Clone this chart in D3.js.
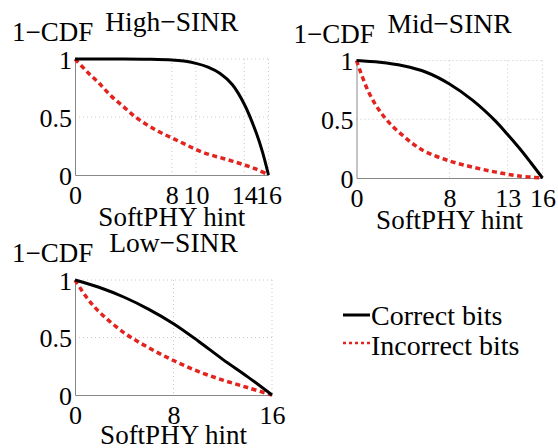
<!DOCTYPE html>
<html>
<head>
<meta charset="utf-8">
<script src="https://cdn.jsdelivr.net/npm/d3@7"></script>
<style>
  html, body { margin: 0; padding: 0; background: #fff; }
</style>
</head>
<body>
<svg id="chart" width="558" height="448"></svg>
<script>
// SoftPHY hint values (x) and 1-CDF of each bit class, per SINR regime
const highHint      = [0, 2, 4, 6, 8, 9, 10, 11, 12, 13, 14, 15, 15.5, 16];
const highCorrect   = [1.0, 1.0, 1.0, 0.998, 0.992, 0.982, 0.962, 0.93, 0.875, 0.78, 0.61, 0.36, 0.2, 0];
const highIncHint   = [0, 1, 2, 3, 4, 5, 6, 7, 8, 9, 10, 11, 12, 13, 14, 15, 16];
const highIncorrect = [1.0, 0.89, 0.79, 0.68, 0.59, 0.5, 0.43, 0.37, 0.32, 0.27, 0.22, 0.18, 0.15, 0.12, 0.087, 0.05, 0];

const midHint       = [0, 2, 4, 6, 8, 10, 12, 13, 14, 15, 16];
const midCorrect    = [1.0, 0.985, 0.955, 0.9, 0.8, 0.66, 0.48, 0.37, 0.255, 0.13, 0];
const midIncHint    = [0, 1, 2, 3, 4, 5, 6, 8, 10, 12, 14, 16];
const midIncorrect  = [1.0, 0.74, 0.57, 0.45, 0.36, 0.28, 0.22, 0.145, 0.092, 0.05, 0.017, 0];

const lowHint       = [0, 2, 4, 6, 8, 10, 12, 14, 16];
const lowCorrect    = [1.0, 0.935, 0.85, 0.745, 0.62, 0.47, 0.31, 0.16, 0];
const lowIncHint    = [0, 1, 2, 4, 6, 8, 10, 12, 14, 16];
const lowIncorrect  = [1.0, 0.84, 0.72, 0.54, 0.41, 0.3, 0.205, 0.13, 0.065, 0];

const highTicks = [0, 8, 10, 14, 16];
const midTicks  = [0, 8, 13, 16];
const lowTicks  = [0, 8, 16];
const yTicks    = [0, 0.5, 1];
const yTickLabels = ["0", "0.5", "1"];

const titles = ["High\u2212SINR", "Mid\u2212SINR", "Low\u2212SINR"];
const yLabel = "1\u2212CDF";
const xLabel = "SoftPHY hint";
const seriesNames = ["Correct bits", "Incorrect bits"];

const RED = "#e3231e";
const FONT = "Liberation Serif";

const svg = d3.select("#chart").attr("font-family", FONT);

const panels = [
  { title: titles[0], ticks: highTicks, box: [75, 268.5, 59, 175], xlab: 51,
    correct: [highHint, highCorrect], incorrect: [highIncHint, highIncorrect] },
  { title: titles[1], ticks: midTicks, box: [356.5, 542.5, 60.5, 178], xlab: 51,
    correct: [midHint, midCorrect], incorrect: [midIncHint, midIncorrect] },
  { title: titles[2], ticks: lowTicks, box: [75, 272, 280, 395], xlab: 49,
    correct: [lowHint, lowCorrect], incorrect: [lowIncHint, lowIncorrect] }
];

panels.forEach(p => {
  const [x0, x1, yT, yB] = p.box;
  const x = d3.scaleLinear().domain([0, 16]).range([x0, x1]);
  const y = d3.scaleLinear().domain([0, 1]).range([yB, yT]);
  const g = svg.append("g");

  // dotted grid
  g.append("g").selectAll("line").data(p.ticks.filter(t => t > 0)).join("line")
    .attr("x1", d => x(d)).attr("x2", d => x(d))
    .attr("y1", yT).attr("y2", yB)
    .attr("stroke", "#c8c8c8").attr("stroke-width", 1).attr("stroke-dasharray", "1,3");
  g.append("g").selectAll("line").data(yTicks.filter(t => t > 0)).join("line")
    .attr("x1", x0).attr("x2", x1)
    .attr("y1", d => y(d)).attr("y2", d => y(d))
    .attr("stroke", "#c8c8c8").attr("stroke-width", 1).attr("stroke-dasharray", "1,3");

  // axes
  const xAxis = d3.axisBottom(x).tickValues(p.ticks).tickSize(0).tickPadding(11)
    .tickFormat(d3.format("d"));
  const yAxis = d3.axisLeft(y).tickValues(yTicks).tickSize(0).tickPadding(3)
    .tickFormat((d, i) => yTickLabels[i]);

  const gx = g.append("g").attr("transform", `translate(0,${yB})`).call(xAxis);
  const gy = g.append("g").attr("transform", `translate(${x0},0)`).call(yAxis);
  [gx, gy].forEach(a => {
    a.attr("font-family", FONT).attr("font-size", 26);
    a.select(".domain").attr("stroke", "#888").attr("stroke-width", 1);
    a.selectAll("text").attr("fill", "#000");
  });
  gx.selectAll("text").attr("dy", "0.71em");
  gy.selectAll("text").attr("dy", "0.35em");

  // curves
  const line = d3.line().x(d => x(d[0])).y(d => y(d[1])).curve(d3.curveCatmullRom.alpha(0.5));
  const ptsInc = p.incorrect[0].map((h, i) => [h, p.incorrect[1][i]]);
  const ptsCor = p.correct[0].map((h, i) => [h, p.correct[1][i]]);
  g.append("path").attr("d", line(ptsInc)).attr("fill", "none")
    .attr("stroke", RED).attr("stroke-width", 3.5).attr("stroke-dasharray", "5,3.5");
  g.append("path").attr("d", line(ptsCor)).attr("fill", "none")
    .attr("stroke", "#000").attr("stroke-width", 3);

  // labels
  g.append("text").attr("x", (x0 + x1) / 2).attr("y", yT - 28)
    .attr("text-anchor", "middle").attr("font-size", 27.5).text(p.title);
  g.append("text").attr("x", x0 - 63).attr("y", yT - 18)
    .attr("font-size", 27).text(yLabel);
  g.append("text").attr("x", (x0 + x1) / 2).attr("y", yB + p.xlab)
    .attr("text-anchor", "middle").attr("font-size", 27).text(xLabel);
});

// legend
const legend = svg.append("g");
const legendRows = [
  { name: seriesNames[0], color: "#000", width: 3, dash: null, y: 315, ty: 325 },
  { name: seriesNames[1], color: RED, width: 2.5, dash: "3,3", y: 343, ty: 355 }
];
legendRows.forEach(r => {
  legend.append("line").attr("x1", 343).attr("x2", 370).attr("y1", r.y).attr("y2", r.y)
    .attr("stroke", r.color).attr("stroke-width", r.width)
    .attr("stroke-dasharray", r.dash);
  legend.append("text").attr("x", 371).attr("y", r.ty)
    .attr("font-size", 28).text(r.name);
});
</script>
</body>
</html>
